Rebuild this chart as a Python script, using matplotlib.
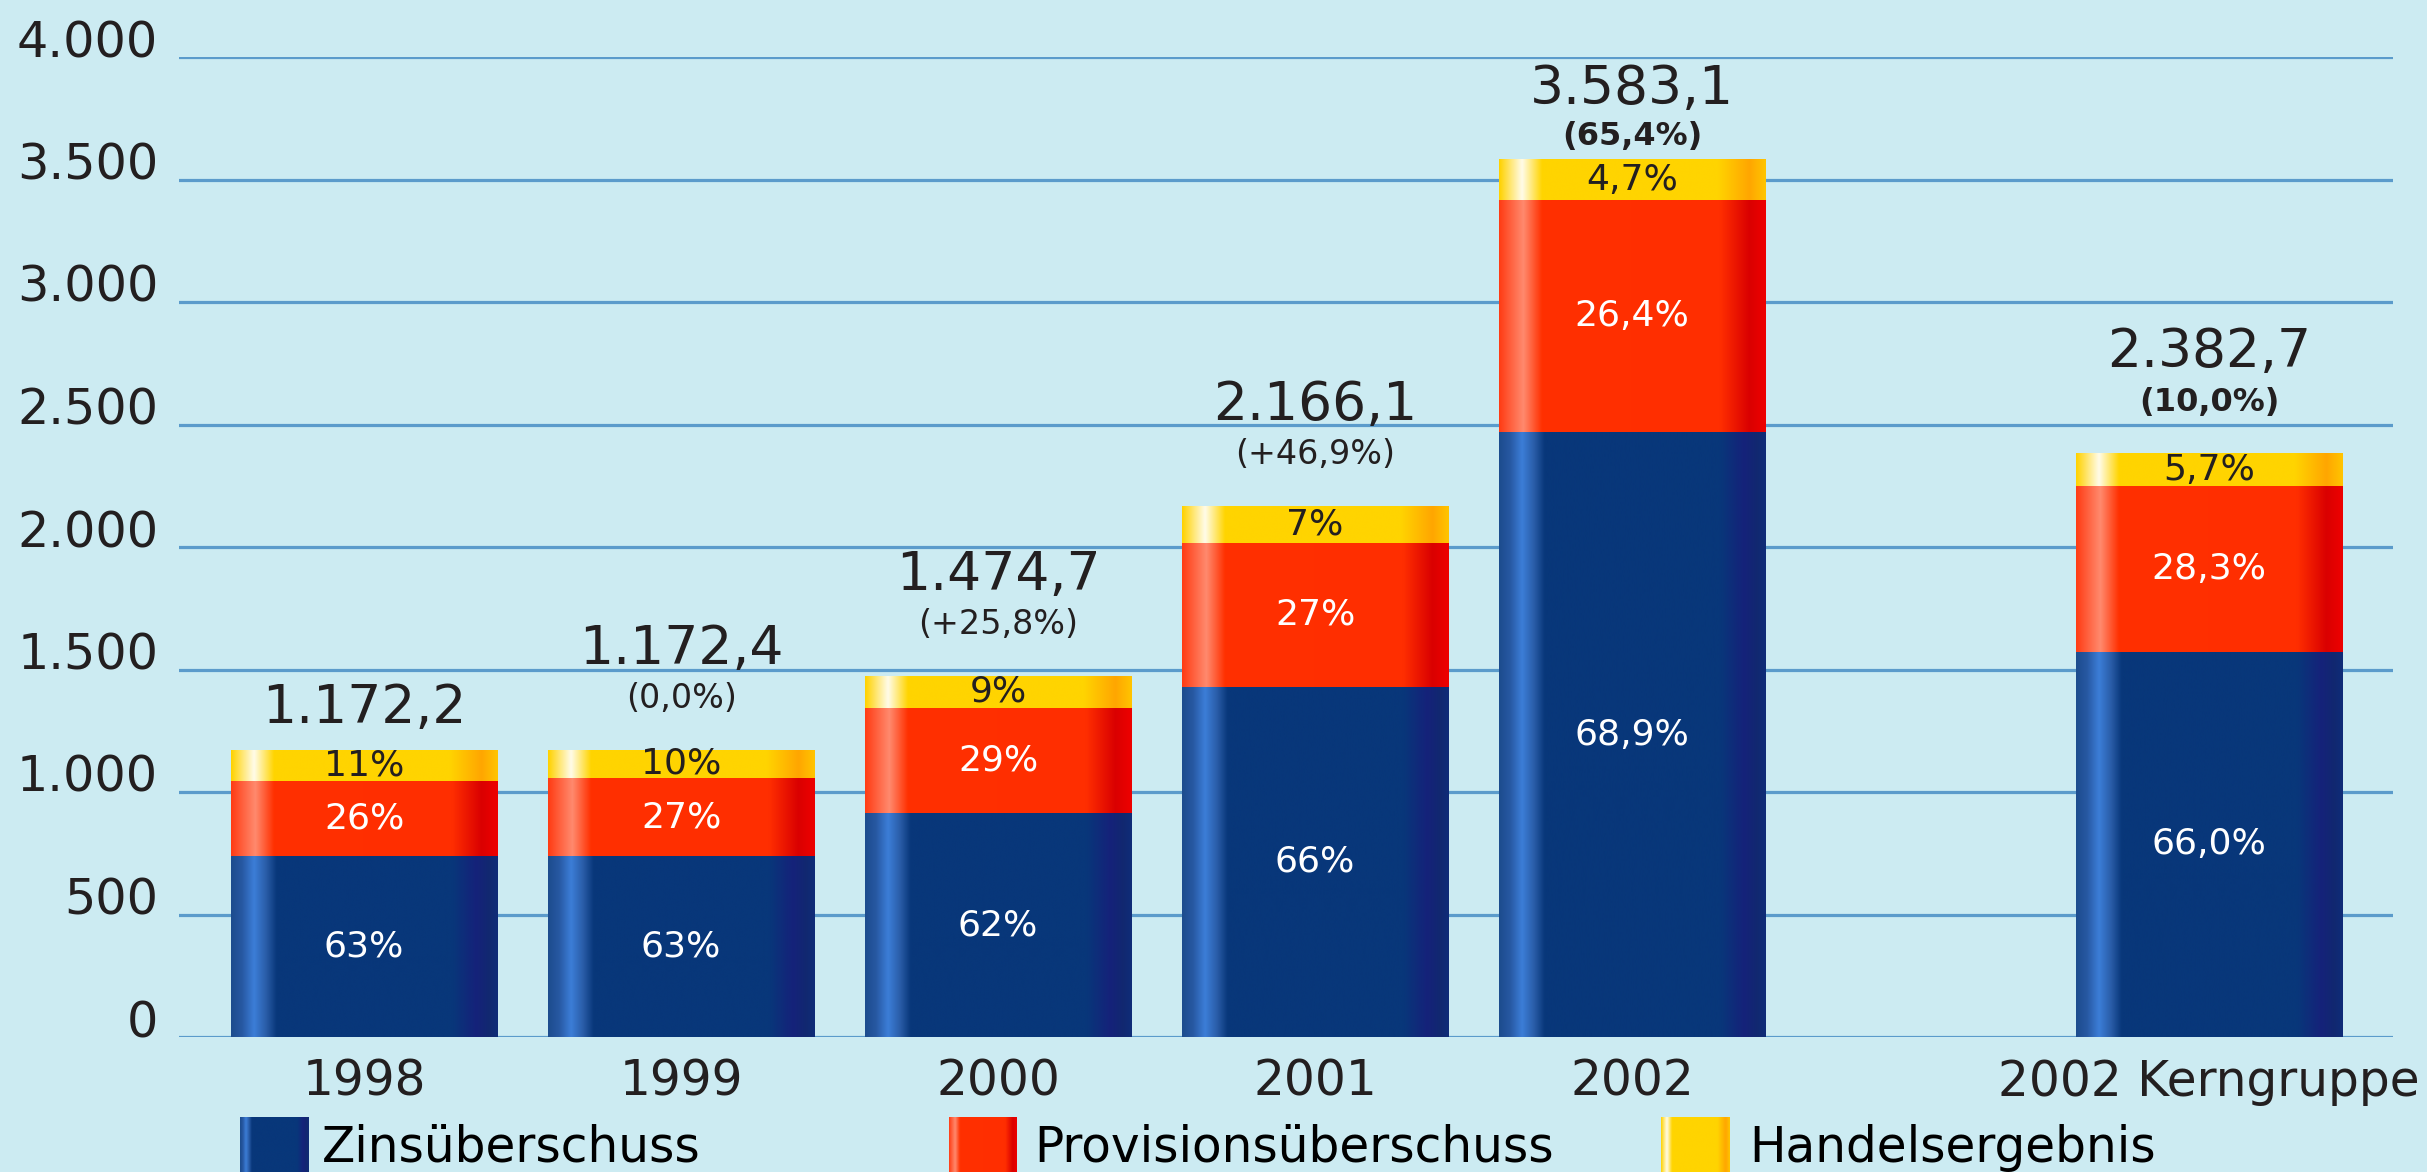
import numpy as np
import matplotlib
matplotlib.use("Agg")
import matplotlib.pyplot as plt
from matplotlib.colors import LinearSegmentedColormap

# ---------------- data ----------------
categories = ['1998', '1999', '2000', '2001', '2002', '2002 Kerngruppe']
zins = [738, 739, 914, 1430, 2469, 1573]
prov = [305, 317, 428, 585, 946, 674]
handel = [129, 117, 133, 152, 168, 136]
total_labels = ['1.172,2', '1.172,4', '1.474,7', '2.166,1', '3.583,1', '2.382,7']
growth_labels = ['', '(0,0%)', '(+25,8%)', '(+46,9%)', '(65,4%)', '(10,0%)']
growth_bold = [False, False, False, False, True, True]
zins_pct = ['63%', '63%', '62%', '66%', '68,9%', '66,0%']
prov_pct = ['26%', '27%', '29%', '27%', '26,4%', '28,3%']
handel_pct = ['11%', '10%', '9%', '7%', '4,7%', '5,7%']
series_names = ['Zinsüberschuss', 'Provisionsüberschuss', 'Handelsergebnis']
yticks = [0, 500, 1000, 1500, 2000, 2500, 3000, 3500, 4000]
ytick_labels = ['0', '500', '1.000', '1.500', '2.000', '2.500', '3.000', '3.500', '4.000']

# ---------------- style ----------------
BG = '#CCEBF2'
GRID = '#5B9BCB'
TXT = '#231F20'

blue_stops = [(0.0, '#1C4C8E'), (0.04, '#2758A2'), (0.085, '#3C7ED8'), (0.13, '#2A5DA8'),
              (0.17, '#08377A'), (0.83, '#08377A'), (0.92, '#15227A'), (0.97, '#112870'), (1.0, '#0F2C78')]
red_stops = [(0.0, '#FF3C14'), (0.09, '#FF8A6E'), (0.16, '#FF3000'), (0.83, '#FF2E00'),
             (0.94, '#DA0000'), (1.0, '#EE0000')]
yel_stops = [(0.0, '#FFD200'), (0.085, '#FFFCEA'), (0.16, '#FFD400'), (0.82, '#FFD400'),
             (0.94, '#FFA600'), (1.0, '#FFC400')]
cmaps = [LinearSegmentedColormap.from_list(n, s) for n, s in
         (('b', blue_stops), ('r', red_stops), ('y', yel_stops))]
pct_colors = ['white', 'white', TXT]

W, H = 2427, 1172
fig = plt.figure(figsize=(W / 100, H / 100), dpi=100)
fig.patch.set_facecolor(BG)

ax_l, ax_r, ax_b, ax_t = 179, 2393, 1037, 57
ax = fig.add_axes([ax_l / W, (H - ax_b) / H, (ax_r - ax_l) / W, (ax_b - ax_t) / H])
ax.set_facecolor(BG)

xpos = np.array([0, 1, 2, 3, 4, 5.82])
bar_w = 0.84
grad = np.linspace(0, 1, 256).reshape(1, -1)

bottoms = np.zeros(len(categories))
series = [zins, prov, handel]
pct_lists = [zins_pct, prov_pct, handel_pct]
for k, (vals, cm) in enumerate(zip(series, cmaps)):
    bars = ax.bar(xpos, vals, bar_w, bottom=bottoms, facecolor='none', edgecolor='none', zorder=2)
    for i, r in enumerate(bars.patches):
        x0, y0, w, h = r.get_x(), r.get_y(), r.get_width(), r.get_height()
        im = ax.imshow(grad, extent=[x0, x0 + w, y0, y0 + h], aspect='auto', cmap=cm,
                       interpolation='bicubic', zorder=2)
        im.set_clip_path(r)
        ax.text(x0 + w / 2, y0 + h / 2, pct_lists[k][i], ha='center', va='center',
                fontsize=26, color=pct_colors[k], zorder=4)
    bottoms = bottoms + np.array(vals)

totals = bottoms
for i, (x, t) in enumerate(zip(xpos, totals)):
    g = growth_labels[i]
    if not g:
        off_g, off_t = None, 19
    elif t > 3500:
        off_g, off_t = 10, 40
    else:
        off_g, off_t = 30, 62
    if g:
        ax.annotate(g, xy=(x, t), xytext=(0, off_g), textcoords='offset points',
                    ha='center', va='baseline', fontsize=23 if growth_bold[i] else 24,
                    fontweight='bold' if growth_bold[i] else 'normal', color=TXT,
                    annotation_clip=False)
    ax.annotate(total_labels[i], xy=(x, t), xytext=(0, off_t), textcoords='offset points',
                ha='center', va='baseline', fontsize=38.5, color=TXT, annotation_clip=False)

ax.set_xlim(-0.584, 6.40)
ax.set_ylim(0, 4000)
ax.set_yticks(yticks)
ax.set_yticklabels(ytick_labels)
ax.set_xticks(xpos)
ax.set_xticklabels(categories)
for lab in ax.get_yticklabels():
    lab.set_va('baseline')
ax.tick_params(axis='y', length=0, pad=15, labelsize=35.5, labelcolor=TXT)
ax.tick_params(axis='x', length=0, pad=15, labelsize=35, labelcolor=TXT)
ax.yaxis.grid(True, color=GRID, linewidth=2.3, zorder=0)
ax.set_axisbelow(True)
for s in ax.spines.values():
    s.set_visible(False)

# ---------------- legend ----------------
leg = [(240, 309, 1034), (949, 1017, 1034 + 0), (1661, 1729, 1749)]
leg = [(240, 309, 322), (949, 1017, 1034), (1661, 1729, 1749)]
for (sx0, sx1, tx), cm, name in zip(leg, cmaps, series_names):
    sax = fig.add_axes([sx0 / W, 0, (sx1 - sx0) / W, (H - 1117) / H])
    sax.imshow(grad, aspect='auto', cmap=cm, interpolation='bicubic', extent=[0, 1, 0, 1])
    sax.set_axis_off()
    fig.text(tx / W, (H - 1162) / H, name, ha='left', va='baseline', fontsize=35, color='black')

fig.savefig('out.png', dpi=100, facecolor=BG)
